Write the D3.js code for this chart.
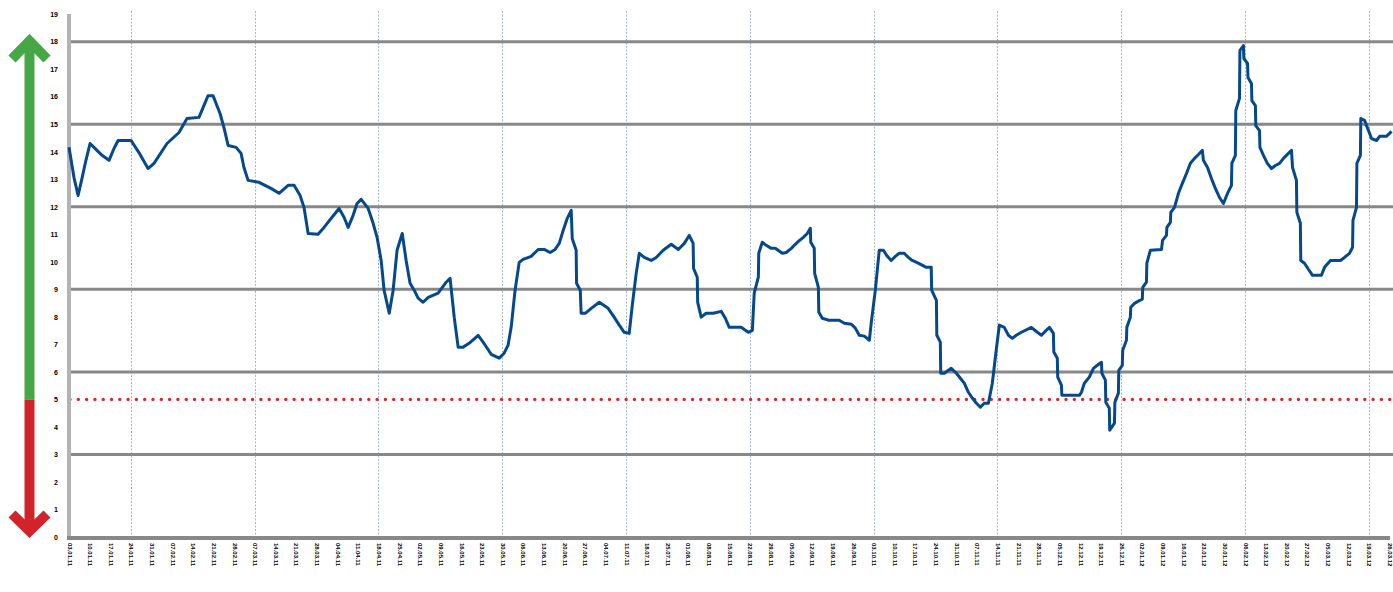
<!DOCTYPE html>
<html>
<head>
<meta charset="utf-8">
<script src="https://cdn.jsdelivr.net/npm/d3@7"></script>
<style>
  body { margin: 0; background: #fff; }
  svg { display: block; font-family: 'DejaVu Sans', sans-serif; }
</style>
</head>
<body>
<svg id="chart"></svg>
<script>
// weekly category labels along the bottom
let weekLabels = [
  '03.01.11', '10.01.11', '17.01.11', '24.01.11', '31.01.11', '07.02.11', '14.02.11',
  '21.02.11', '28.02.11', '07.03.11', '14.03.11', '21.03.11', '28.03.11', '04.04.11',
  '11.04.11', '18.04.11', '25.04.11', '02.05.11', '09.05.11', '16.05.11', '23.05.11',
  '30.05.11', '06.06.11', '13.06.11', '20.06.11', '27.06.11', '04.07.11', '11.07.11',
  '18.07.11', '25.07.11', '01.08.11', '08.08.11', '15.08.11', '22.08.11', '29.08.11',
  '05.09.11', '12.09.11', '19.09.11', '26.09.11', '03.10.11', '10.10.11', '17.10.11',
  '24.10.11', '31.10.11', '07.11.11', '14.11.11', '21.11.11', '28.11.11', '05.12.11',
  '12.12.11', '19.12.11', '26.12.11', '02.01.12', '09.01.12', '16.01.12', '23.01.12',
  '30.01.12', '06.02.12', '13.02.12', '20.02.12', '27.02.12', '05.03.12', '12.03.12',
  '19.03.12', '26.03.12'
]

// y ticks, the heavy grid lines and the dotted vertical guides (week index)
let yTicks = [0, 1, 2, 3, 4, 5, 6, 7, 8, 9, 10, 11, 12, 13, 14, 15, 16, 17, 18, 19]
let gridValues = [3, 6, 9, 12, 15, 18]
let guideWeeks = [3, 9, 15, 21, 27, 33, 39, 45, 51, 57, 63]
let threshold = 5

// the series: position in weeks and value
let weekPos = [
  0, 0.24, 0.44, 0.63, 0.82, 1.02, 1.21, 1.6, 1.94, 2.18, 2.38, 3.01, 3.39, 3.83, 4.12,
  4.75, 5.33, 5.72, 6.3, 6.74, 6.98, 7.32, 7.52, 7.71, 8.1, 8.34, 8.48, 8.68, 9.21, 9.79,
  10.18, 10.62, 10.91, 11.2, 11.39, 11.59, 12.07, 12.36, 12.75, 13.09, 13.33, 13.53, 13.77,
  13.96, 14.16, 14.5, 14.74, 14.93, 15.13, 15.27, 15.52, 15.71, 15.9, 16.15, 16.34, 16.53,
  16.73, 16.92, 17.16, 17.41, 17.89, 18.28, 18.47, 18.67, 18.86, 19.1, 19.39, 19.83, 20.07,
  20.27, 20.46, 20.85, 21.09, 21.28, 21.43, 21.62, 21.82, 22.01, 22.4, 22.74, 23.03, 23.32,
  23.56, 23.76, 23.95, 24.15, 24.34, 24.39, 24.58, 24.6, 24.78, 24.82, 25.02, 25.31, 25.7,
  26.13, 26.42, 26.67, 26.91, 27.15, 27.3, 27.49, 27.64, 27.88, 28.22, 28.46, 28.8, 29.19,
  29.53, 29.82, 30.06, 30.25, 30.27, 30.45, 30.47, 30.64, 30.88, 31.22, 31.61, 31.81, 32.0,
  32.58, 32.92, 33.12, 33.21, 33.41, 33.43, 33.6, 33.79, 34.04, 34.23, 34.57, 34.76, 35.01,
  35.15, 35.35, 35.59, 35.78, 35.93, 35.95, 36.12, 36.14, 36.32, 36.34, 36.51, 36.8, 37.33,
  37.58, 37.92, 38.11, 38.3, 38.55, 38.79, 38.88, 39.08, 39.27, 39.47, 39.66, 39.85, 40.05,
  40.24, 40.48, 40.68, 40.87, 41.16, 41.55, 41.79, 41.81, 42.04, 42.06, 42.23, 42.25, 42.42,
  42.76, 43.01, 43.2, 43.39, 43.59, 43.78, 43.98, 44.17, 44.36, 44.56, 44.75, 44.95, 45.09,
  45.33, 45.53, 45.72, 45.91, 46.16, 46.64, 46.93, 47.13, 47.32, 47.52, 47.71, 47.73, 47.9,
  47.92, 48.1, 48.12, 48.97, 49.07, 49.21, 49.45, 49.65, 49.84, 50.04, 50.06, 50.23, 50.25,
  50.42, 50.44, 50.67, 50.69, 50.86, 50.88, 51.05, 51.07, 51.25, 51.27, 51.44, 51.46, 51.64,
  51.83, 52.02, 52.04, 52.22, 52.24, 52.41, 52.95, 53.0, 53.19, 53.21, 53.38, 53.4, 53.58,
  53.77, 53.96, 54.16, 54.35, 54.55, 54.74, 54.93, 54.98, 55.18, 55.37, 55.56, 55.76, 55.95,
  56.15, 56.34, 56.36, 56.53, 56.55, 56.73, 56.75, 56.92, 56.94, 57.12, 57.14, 57.31, 57.33,
  57.5, 57.52, 57.7, 57.72, 57.89, 58.08, 58.28, 58.47, 58.67, 58.86, 59.1, 59.25, 59.3,
  59.49, 59.51, 59.68, 59.7, 59.88, 60.07, 60.27, 60.7, 60.85, 61.14, 61.62, 61.82, 62.06,
  62.21, 62.23, 62.4, 62.42, 62.59, 62.61, 62.79, 62.98, 63.13, 63.37, 63.52, 63.85, 64.1
]
let values = [
  14.16, 13.07, 12.41, 13.03, 13.69, 14.3, 14.16, 13.87, 13.69, 14.12, 14.41, 14.41, 13.97,
  13.39, 13.58, 14.3, 14.7, 15.21, 15.25, 16.04, 16.04, 15.39, 14.85, 14.23, 14.16, 13.94,
  13.43, 12.96, 12.89, 12.67, 12.49, 12.78, 12.78, 12.41, 11.98, 11.03, 11.0, 11.25, 11.62,
  11.94, 11.62, 11.25, 11.69, 12.12, 12.27, 11.94, 11.4, 10.89, 10.05, 8.97, 8.13, 8.97,
  10.42, 11.03, 10.05, 9.22, 8.97, 8.68, 8.53, 8.71, 8.86, 9.26, 9.4, 7.99, 6.9, 6.9, 7.04,
  7.33, 7.08, 6.86, 6.64, 6.5, 6.68, 6.97, 7.62, 8.97, 9.98, 10.09, 10.2, 10.45, 10.45,
  10.34, 10.45, 10.67, 11.14, 11.58, 11.87, 10.85, 10.42, 9.22, 8.97, 8.13, 8.13, 8.31,
  8.53, 8.31, 7.99, 7.7, 7.44, 7.4, 8.42, 9.58, 10.31, 10.16, 10.05, 10.16, 10.42, 10.64,
  10.45, 10.67, 10.96, 10.67, 9.76, 9.44, 8.53, 7.99, 8.13, 8.13, 8.2, 7.95, 7.62, 7.62,
  7.44, 7.51, 8.86, 9.44, 10.31, 10.71, 10.6, 10.49, 10.49, 10.31, 10.34, 10.49, 10.6,
  10.74, 10.89, 11.03, 11.22, 10.71, 10.49, 9.58, 9.07, 8.17, 7.95, 7.88, 7.88, 7.77, 7.73,
  7.59, 7.33, 7.3, 7.15, 7.77, 8.97, 10.42, 10.42, 10.2, 10.05, 10.2, 10.31, 10.31, 10.16,
  10.05, 9.95, 9.8, 9.8, 8.97, 8.6, 7.33, 7.08, 5.95, 5.95, 6.13, 5.95, 5.77, 5.59, 5.26,
  5.05, 4.86, 4.72, 4.86, 4.86, 5.59, 6.86, 7.7, 7.62, 7.33, 7.22, 7.33, 7.44, 7.62, 7.44,
  7.33, 7.48, 7.62, 7.4, 6.72, 6.5, 5.81, 5.52, 5.15, 5.15, 5.26, 5.59, 5.81, 6.13, 6.24,
  6.35, 5.95, 5.7, 4.9, 4.68, 3.88, 4.14, 4.9, 5.23, 6.06, 6.24, 6.79, 7.15, 7.62, 7.99,
  8.35, 8.49, 8.57, 8.64, 9.07, 9.26, 9.95, 10.42, 10.45, 10.78, 10.96, 11.25, 11.43, 11.8,
  11.98, 12.49, 12.85, 13.21, 13.58, 13.76, 13.9, 14.05, 13.69, 13.43, 13.03, 12.67, 12.34,
  12.12, 12.49, 12.78, 13.58, 13.87, 15.5, 15.94, 17.68, 17.86, 17.39, 17.21, 16.7, 16.48,
  15.86, 15.68, 14.95, 14.77, 14.16, 13.87, 13.58, 13.39, 13.5, 13.58, 13.76, 13.94, 14.05,
  13.43, 12.96, 11.8, 11.4, 10.05, 9.95, 9.73, 9.51, 9.51, 9.8, 10.05, 10.05, 10.16, 10.31,
  10.53, 11.51, 11.98, 13.58, 13.87, 15.21, 15.14, 14.77, 14.48, 14.41, 14.56, 14.56, 14.74
]

let width = 1393
let height = 592
let plotLeft = 69
let plotRight = 1393
let plotTop = 14
let plotBottom = 537

let svg = d3.select('#chart').attr('width', width).attr('height', height)

let xScale = d3.scaleLinear().domain([0, 64]).range([69, 1389.5])
let yScale = d3.scaleLinear().domain([0, 18]).range([plotBottom, 41.7])

// dotted vertical guides
svg.append('g')
  .selectAll('line')
  .data(guideWeeks)
  .join('line')
  .attr('x1', d => Math.round(xScale(d)) + 0.5)
  .attr('x2', d => Math.round(xScale(d)) + 0.5)
  .attr('y1', 11)
  .attr('y2', plotBottom)
  .attr('stroke', '#a7b8c9')
  .attr('stroke-width', 1)
  .attr('stroke-dasharray', '2,1.5')

// heavy horizontal grid lines
svg.append('g')
  .selectAll('line')
  .data(gridValues)
  .join('line')
  .attr('x1', plotLeft)
  .attr('x2', plotRight)
  .attr('y1', d => yScale(d))
  .attr('y2', d => yScale(d))
  .attr('stroke', '#888')
  .attr('stroke-width', 3)

// red threshold line
svg.append('line')
  .attr('x1', plotLeft + 1)
  .attr('x2', plotRight)
  .attr('y1', yScale(threshold))
  .attr('y2', yScale(threshold))
  .attr('stroke', '#e0232b')
  .attr('stroke-width', 3.4)
  .attr('stroke-linecap', 'round')
  .attr('stroke-dasharray', '0,8.3')

// left axis line and bottom axis line
svg.append('line')
  .attr('x1', 69).attr('x2', 69)
  .attr('y1', plotTop).attr('y2', plotBottom + 2)
  .attr('stroke', '#b3b3b3')
  .attr('stroke-width', 4)

svg.append('line')
  .attr('x1', 67).attr('x2', 1390)
  .attr('y1', 538).attr('y2', 538)
  .attr('stroke', '#888')
  .attr('stroke-width', 4)

// y tick labels
let yAxis = d3.axisLeft(yScale).tickValues(yTicks).tickSize(0).tickPadding(0)
let yG = svg.append('g')
  .attr('transform', 'translate(58,0)')
  .call(yAxis)
yG.select('.domain').remove()
yG.selectAll('text')
  .attr('font-size', 7)
  .attr('font-weight', 'bold')
  .attr('fill', '#000')

// x tick labels, vertical
let xAxis = d3.axisBottom(xScale)
  .tickValues(d3.range(weekLabels.length))
  .tickFormat(i => weekLabels[i])
  .tickSize(0)
let xG = svg.append('g')
  .attr('transform', 'translate(0,' + 543 + ')')
  .call(xAxis)
xG.select('.domain').remove()
xG.selectAll('text')
  .attr('font-size', 6)
  .attr('font-weight', 'bold')
  .attr('fill', '#000')
  .attr('text-anchor', 'start')
  .attr('dy', 0)
  .attr('y', 0)
  .attr('transform', 'rotate(90) translate(0,2)')

// the series line
let line = d3.line()
  .x((d, i) => xScale(weekPos[i]))
  .y(d => yScale(d))

svg.append('path')
  .datum(values)
  .attr('d', line)
  .attr('fill', 'none')
  .attr('stroke', '#05488c')
  .attr('stroke-width', 3)
  .attr('stroke-linejoin', 'round')

// green / red arrow on the left
let arrowX = 29.5
let splitY = yScale(threshold)
svg.append('line')
  .attr('x1', arrowX).attr('x2', arrowX)
  .attr('y1', 42).attr('y2', splitY)
  .attr('stroke', '#45a845')
  .attr('stroke-width', 10)
svg.append('polyline')
  .attr('points', [[12, 59], [arrowX, 41], [47, 59]].join(' '))
  .attr('fill', 'none')
  .attr('stroke', '#45a845')
  .attr('stroke-width', 10)
  .attr('stroke-linejoin', 'miter')

svg.append('line')
  .attr('x1', arrowX).attr('x2', arrowX)
  .attr('y1', splitY).attr('y2', 530)
  .attr('stroke', '#d2232a')
  .attr('stroke-width', 10)
svg.append('polyline')
  .attr('points', [[12, 514], [arrowX, 531], [47, 514]].join(' '))
  .attr('fill', 'none')
  .attr('stroke', '#d2232a')
  .attr('stroke-width', 10)
  .attr('stroke-linejoin', 'miter')
</script>
</body>
</html>
